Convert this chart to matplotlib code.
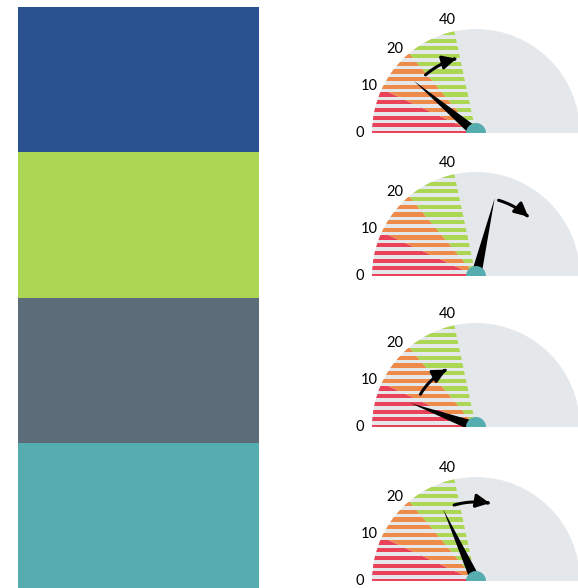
import numpy as np
import matplotlib
matplotlib.use("Agg")
import matplotlib.pyplot as plt
from matplotlib.patches import Wedge, Polygon, FancyArrowPatch
from matplotlib.path import Path

# ---------------- data ----------------
segment_colors = ["#2b5290", "#acd755", "#5c6d79", "#55adb0"]
segment_values = [1, 1, 1, 1]

tick_values = [0, 10, 20, 40]
tick_label_angles = [180, 156, 134, 104.5]
scale_values = [0, 10, 20, 40, 100]
scale_angles = [180, 155, 130, 102, 0]
band_edges = [0, 10, 20, 40]
band_colors = ["#ea4259", "#ee8a4a", "#acd755"]

needle_values = [16, 55, 8, 31]
needle_lengths = [0.78, 0.77, 0.67, 0.76]
trend_from = [19.6, 56.8, 12.2, 37.1]
trend_to = [37.9, 71.4, 29.1, 52.9]
trend_radius = [0.74, 0.76, 0.62, 0.76]

# ---------------- style ----------------
W, H = 578, 588
GRAY = "#e5e8eb"
HUB = "#55adb0"
plt.rcParams["font.family"] = ["Lato", "DejaVu Sans"]

fig = plt.figure(figsize=(W / 100, H / 100), dpi=100)
fig.patch.set_facecolor("white")

# left stacked column
axl = fig.add_axes([18 / W, 0, (259 - 18) / W, (H - 7) / H])
bottom = 0
for v, c in zip(segment_values, segment_colors):
    axl.bar(0, v, bottom=bottom, width=1.0, color=c, linewidth=0)
    bottom += v
axl.set_xlim(-0.5, 0.5)
axl.set_ylim(sum(segment_values), 0)
axl.axis("off")


def ang(v):
    return np.interp(v, scale_values, scale_angles)


R = 104.0
cx = 476
centers_y = [133, 276, 427, 581]
left_px, right_px = 355, 578
top_off, bot_off = 128, 6

stripe_period = 0.074
stripe_h = 0.04
stripe_y = np.arange(0, 1.05, stripe_period)

for i, cy in enumerate(centers_y):
    b = H - (cy + bot_off)
    t = H - (cy - top_off)
    ax = fig.add_axes([left_px / W, b / H, (right_px - left_px) / W, (t - b) / H])
    ax.set_xlim((left_px - cx) / R, (right_px - cx) / R)
    ax.set_ylim(-bot_off / R, top_off / R)
    ax.axis("off")

    bg = Wedge((0, 0), 1.0, 0, 180, facecolor=GRAY, edgecolor="none", zorder=1)
    ax.add_patch(bg)

    for lo, hi, col in zip(band_edges[:-1], band_edges[1:], band_colors):
        clip = Wedge((0, 0), 1.0, ang(hi), ang(lo), facecolor="none", edgecolor="none")
        ax.add_patch(clip)
        bars = ax.barh(stripe_y, 2.2, left=-1.1, height=stripe_h, color=col,
                       linewidth=0, zorder=2)
        for p in bars:
            p.set_clip_path(clip)

    for tv, ta in zip(tick_values, tick_label_angles):
        a = np.radians(ta)
        ax.text(1.12 * np.cos(a), 1.12 * np.sin(a), str(tv), ha="center", va="center",
                fontsize=10.5, color="black", clip_on=False, zorder=5)

    # needle
    a = np.radians(ang(needle_values[i]))
    L = needle_lengths[i]
    w = 0.05
    tip = (L * np.cos(a), L * np.sin(a))
    p1 = (-w * np.sin(a), w * np.cos(a))
    p2 = (w * np.sin(a), -w * np.cos(a))
    nd = Polygon([p1, tip, p2], closed=True, facecolor="black", edgecolor="none", zorder=3)
    ax.add_patch(nd)
    nd.set_clip_path(bg)
    ax.add_patch(Wedge((0, 0), 0.096, 0, 180, facecolor=HUB, edgecolor="none", zorder=4))

    # trend arrow
    th = np.radians(np.linspace(ang(trend_from[i]), ang(trend_to[i]), 30))
    r = trend_radius[i]
    verts = np.column_stack([r * np.cos(th), r * np.sin(th)])
    codes = [Path.MOVETO] + [Path.LINETO] * (len(verts) - 1)
    arr = FancyArrowPatch(path=Path(verts, codes),
                          arrowstyle="-|>,head_length=1.0,head_width=0.5",
                          mutation_scale=8, linewidth=2.2, color="black", zorder=4)
    ax.add_patch(arr)

fig.savefig("out.png", dpi=100, facecolor="white")
